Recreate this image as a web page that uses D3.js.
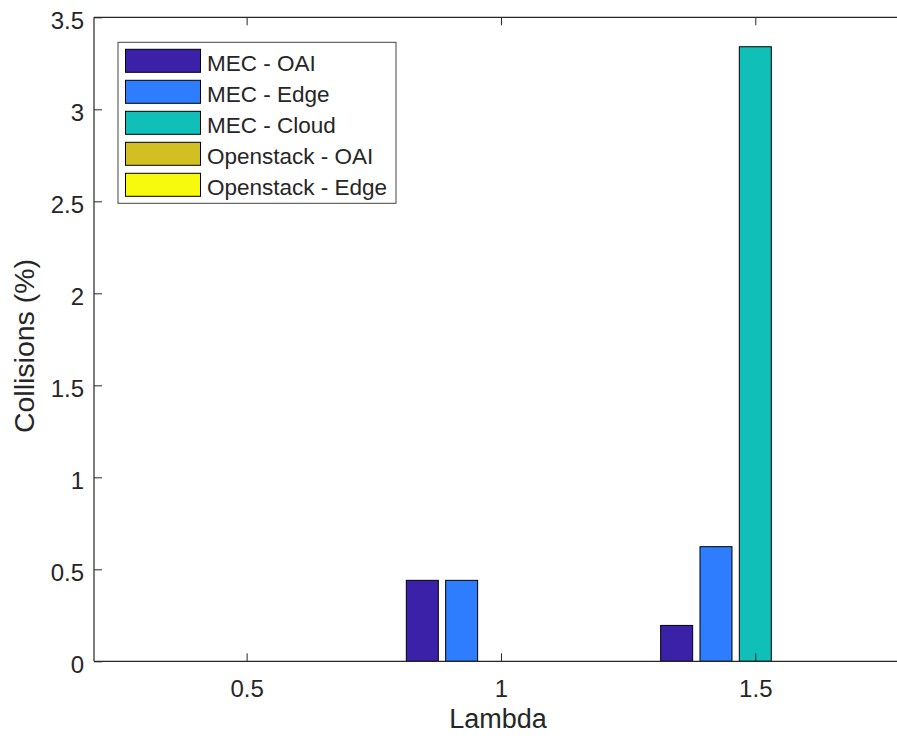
<!DOCTYPE html>
<html>
<head>
<meta charset="utf-8">
<script src="https://cdn.jsdelivr.net/npm/d3@7"></script>
<style>
  body { margin: 0; background: #fff; overflow: hidden; }
  svg { display: block; overflow: hidden; }
  text { font-family: "Liberation Sans", Arial, Helvetica, sans-serif; fill: #262626; }
</style>
</head>
<body>
<svg id="chart" width="897" height="746"></svg>
<script>
// Arrival rate categories on the x axis
const lambdas = [0.5, 1, 1.5];

// Collision percentage per deployment
const seriesNames = ["MEC - OAI", "MEC - Edge", "MEC - Cloud", "Openstack - OAI", "Openstack - Edge"];
const mecOai = [0, 0.44, 0.195];
const mecEdge = [0, 0.44, 0.623];
const mecCloud = [0, 0, 3.34];
const openstackOai = [0, 0, 0];
const openstackEdge = [0, 0, 0];
const seriesColors = ["#3b21a8", "#2e7dfe", "#10c0b8", "#d2bf22", "#f8fa0e"];

const yTicks = [0, 0.5, 1, 1.5, 2, 2.5, 3, 3.5];
const xTicks = [0.5, 1, 1.5];

const series = [mecOai, mecEdge, mecCloud, openstackOai, openstackEdge];

const width = 897;
const svg = d3.select("#chart");
const plotLeft = 94, plotTop = 17.3, plotBottom = 661.3;
const pxPerUnit = 508.7;

const x = d3.scaleLinear().domain([0.2, 1.8]).range([plotLeft, plotLeft + 1.6 * pxPerUnit]);
const y = d3.scaleLinear().domain([0, 3.5]).range([plotBottom, plotTop]);

// grouped bar layout: 5 bars per category
const groupStep = 0.0773;
const barWidth = 0.0629;

const bars = svg.append("g");
series.forEach((vals, si) => {
  bars.selectAll(null)
    .data(vals.map((v, i) => ({ x: lambdas[i], v })))
    .enter()
    .append("rect")
    .attr("x", d => x(d.x + (si - 2) * groupStep - barWidth / 2))
    .attr("width", d => x(d.x + barWidth / 2) - x(d.x - barWidth / 2))
    .attr("y", d => y(d.v))
    .attr("height", d => y(0) - y(d.v))
    .attr("fill", seriesColors[si])
    .attr("stroke", "#000")
    .attr("stroke-width", 1);
});

// axes (ticks pointing inward); the right side of the box runs past the figure edge
const axisColor = "#262626";
const boxRight = Math.min(x.range()[1], width);
const xAxisB = d3.axisBottom(x).tickValues(xTicks).tickSize(-8).tickPadding(19)
  .tickFormat(d3.format(""));
const xAxisT = d3.axisTop(x).tickValues(xTicks).tickSize(-8).tickFormat("");
const yAxisL = d3.axisLeft(y).tickValues(yTicks).tickSize(-8).tickPadding(10)
  .tickFormat(d3.format(""));

function styleAxis(g) {
  g.select(".domain").attr("stroke", axisColor).attr("stroke-width", 1.2);
  g.selectAll(".tick line").attr("stroke", axisColor).attr("stroke-width", 1);
  g.selectAll(".tick text").style("font-size", "24px").attr("fill", "#262626");
}

svg.append("g").attr("transform", `translate(0,${plotBottom})`).call(xAxisB).call(styleAxis)
  .call(g => g.select(".domain").attr("d", `M${plotLeft},0H${boxRight}`));
svg.append("g").attr("transform", `translate(0,${plotTop})`).call(xAxisT).call(styleAxis)
  .call(g => g.select(".domain").attr("d", `M${plotLeft},0H${boxRight}`));
svg.append("g").attr("transform", `translate(${plotLeft},0)`).call(yAxisL).call(styleAxis)
  .call(g => g.select(".domain").attr("d", `M0,${y.range()[0]}V${y.range()[1]}`))
  .call(g => g.selectAll(".tick text").attr("dy", "0.45em"));

// axis titles
svg.append("text")
  .attr("x", 498).attr("y", 728)
  .attr("text-anchor", "middle")
  .style("font-size", "27px")
  .text("Lambda");
svg.append("text")
  .attr("transform", `translate(34,346) rotate(-90)`)
  .attr("text-anchor", "middle")
  .style("font-size", "28.5px")
  .text("Collisions (%)");

// legend
const legend = svg.append("g");
legend.append("rect")
  .attr("x", 118).attr("y", 42.3).attr("width", 278).attr("height", 161)
  .attr("fill", "#fff").attr("stroke", "#444").attr("stroke-width", 1);
seriesNames.forEach((name, i) => {
  const ry = 49.3 + i * 31;
  legend.append("rect")
    .attr("x", 125.5).attr("y", ry).attr("width", 75).attr("height", 23)
    .attr("fill", seriesColors[i]).attr("stroke", "#000").attr("stroke-width", 1);
  legend.append("text")
    .attr("x", 207).attr("y", ry + 21.5)
    .style("font-size", "22.5px")
    .text(name);
});
</script>
</body>
</html>
